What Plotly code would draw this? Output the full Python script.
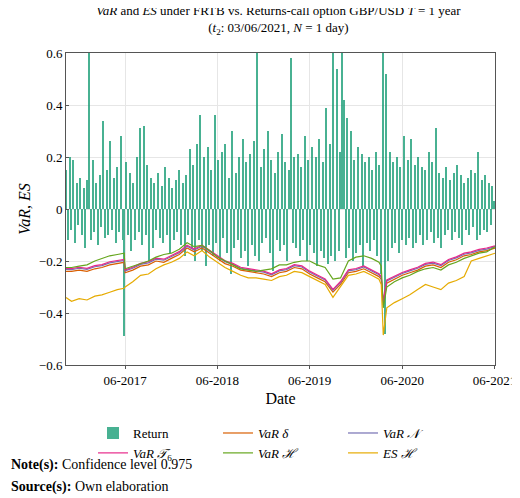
import pandas as pd
import plotly.graph_objects as go

# weekly returns of the call option, starting 2016-10-10
returns = [
    0.15, -0.12, 0.2, -0.08, 0.19, -0.13, 0.1, -0.06, 0.12, -0.1,
    0.08, -0.15, 0.11, 0.6, -0.12, 0.19, -0.09, 0.1, -0.14, 0.13,
    -0.07, 0.34, -0.11, 0.15, -0.1, 0.26, -0.08, 0.12, -0.13, 0.16,
    -0.09, 0.28, -0.12, -0.49, 0.18, -0.1, 0.14, -0.16, 0.1, -0.12,
    0.2, -0.09, 0.31, -0.14, 0.32, -0.1, 0.17, -0.2, 0.12, -0.15,
    0.1, -0.08, 0.14, -0.11, 0.09, -0.13, 0.16, -0.1, 0.12, -0.17,
    0.08, -0.12, 0.11, -0.09, 0.15, -0.14, 0.1, -0.18, 0.13, -0.1,
    0.23, -0.15, 0.17, -0.2, 0.25, -0.12, 0.36, -0.16, 0.2, -0.22,
    0.24, -0.14, 0.15, -0.18, 0.36, -0.13, 0.19, -0.2, 0.22, -0.11,
    0.25, -0.17, 0.12, -0.25, 0.3, -0.15, 0.14, -0.12, 0.2, -0.19,
    0.27, -0.16, 0.18, -0.22, 0.21, -0.14, 0.26, -0.18, 0.6, -0.2,
    0.16, -0.13, 0.23, -0.11, 0.3, -0.17, 0.19, -0.24, 0.14, -0.12,
    0.22, -0.16, 0.29, -0.14, 0.18, -0.2, 0.15, 0.58, -0.13, 0.2,
    -0.15, 0.21, -0.18, 0.16, -0.12, 0.28, -0.2, 0.19, -0.14, 0.24,
    -0.17, 0.2, -0.22, 0.27, -0.16, 0.18, -0.19, 0.39, -0.21, 0.25,
    -0.18, 0.6, -0.2, 0.54, -0.16, 0.22, 0.6, 0.42, -0.19, 0.35,
    -0.15, 0.3, -0.2, 0.19, -0.17, 0.24, -0.14, 0.21, -0.22, 0.18,
    -0.13, 0.2, -0.16, 0.15, -0.12, 0.22, -0.18, 0.17, -0.25, 0.6,
    -0.48, 0.52, -0.2, 0.22, -0.15, 0.18, -0.13, 0.2, -0.17, 0.16,
    -0.12, 0.28, -0.14, 0.19, -0.11, 0.27, -0.15, 0.17, -0.13, 0.2,
    -0.1, 0.16, -0.14, 0.15, -0.12, 0.22, -0.09, 0.18, -0.13, 0.31,
    -0.11, 0.14, -0.15, 0.12, -0.1, 0.16, -0.08, 0.11, -0.12, 0.14,
    -0.09, 0.17, -0.11, 0.13, -0.14, 0.1, -0.08, 0.12, -0.1, 0.15,
    -0.07, 0.14, -0.12, 0.22, -0.1, 0.11, -0.08, 0.13, -0.09, 0.1,
    -0.06, 0.09, 0.03,
]
ret_dates = pd.date_range("2016-10-10", periods=len(returns), freq="7D")

var_dates = [
    "2016-10-10", "2016-11-01", "2016-12-01", "2017-01-01", "2017-02-01",
    "2017-03-01", "2017-04-01", "2017-05-01", "2017-05-28", "2017-06-01",
    "2017-07-01", "2017-08-01", "2017-09-01", "2017-10-01", "2017-11-01",
    "2017-12-01", "2018-01-01", "2018-02-01", "2018-03-01", "2018-04-01",
    "2018-05-01", "2018-06-01", "2018-07-01", "2018-08-01", "2018-09-01",
    "2018-10-01", "2018-11-01", "2018-12-01", "2019-01-01", "2019-02-01",
    "2019-03-01", "2019-04-01", "2019-05-01", "2019-06-01", "2019-07-01",
    "2019-08-01", "2019-09-01", "2019-10-01", "2019-11-01", "2019-12-01",
    "2020-01-01", "2020-02-01", "2020-03-01", "2020-03-10", "2020-03-18",
    "2020-04-01", "2020-05-01", "2020-06-01", "2020-07-01", "2020-08-01",
    "2020-09-01", "2020-10-01", "2020-11-01", "2020-12-01", "2021-01-01",
    "2021-02-01", "2021-03-01", "2021-04-01", "2021-05-01", "2021-06-03",
]
var_delta = [
    -0.24, -0.24, -0.235, -0.24, -0.23, -0.225, -0.215, -0.21, -0.205, -0.245,
    -0.235, -0.22, -0.215, -0.2, -0.205, -0.19, -0.175, -0.15, -0.165, -0.15,
    -0.17, -0.19, -0.21, -0.22, -0.235, -0.24, -0.245, -0.25, -0.26, -0.245,
    -0.24, -0.225, -0.23, -0.25, -0.265, -0.28, -0.32, -0.29, -0.245, -0.24,
    -0.23, -0.245, -0.26, -0.27, -0.37, -0.285, -0.27, -0.255, -0.245, -0.235,
    -0.22, -0.215, -0.225, -0.205, -0.195, -0.18, -0.175, -0.165, -0.16, -0.15,
]
var_norm = [
    -0.232, -0.233, -0.228, -0.232, -0.222, -0.218, -0.207, -0.203, -0.198, -0.238,
    -0.228, -0.213, -0.207, -0.193, -0.197, -0.183, -0.168, -0.143, -0.158, -0.143,
    -0.163, -0.183, -0.203, -0.213, -0.228, -0.233, -0.238, -0.243, -0.253, -0.238,
    -0.233, -0.218, -0.223, -0.243, -0.258, -0.273, -0.313, -0.283, -0.238, -0.233,
    -0.223, -0.238, -0.253, -0.263, -0.36, -0.277, -0.262, -0.248, -0.238, -0.228,
    -0.213, -0.208, -0.218, -0.198, -0.188, -0.174, -0.169, -0.159, -0.154, -0.145,
]
var_t6 = [
    -0.228, -0.229, -0.224, -0.228, -0.218, -0.214, -0.203, -0.199, -0.194, -0.234,
    -0.224, -0.209, -0.203, -0.189, -0.193, -0.179, -0.164, -0.139, -0.154, -0.139,
    -0.159, -0.179, -0.199, -0.209, -0.224, -0.229, -0.234, -0.239, -0.249, -0.234,
    -0.229, -0.214, -0.219, -0.239, -0.254, -0.269, -0.309, -0.279, -0.234, -0.229,
    -0.219, -0.234, -0.249, -0.259, -0.356, -0.273, -0.258, -0.244, -0.234, -0.224,
    -0.209, -0.204, -0.214, -0.194, -0.184, -0.17, -0.165, -0.155, -0.15, -0.142,
]
var_hist = [
    -0.225, -0.225, -0.22, -0.215, -0.2, -0.19, -0.18, -0.175, -0.17, -0.23,
    -0.22, -0.21, -0.2, -0.185, -0.175, -0.17, -0.155, -0.13, -0.145, -0.14,
    -0.16, -0.185, -0.2, -0.215, -0.23, -0.235, -0.24, -0.235, -0.23, -0.215,
    -0.215, -0.205, -0.2, -0.2, -0.215, -0.225, -0.27, -0.265, -0.2, -0.185,
    -0.18, -0.19, -0.205, -0.22, -0.38, -0.3, -0.28, -0.265, -0.255, -0.24,
    -0.23, -0.225, -0.235, -0.215, -0.205, -0.19, -0.18, -0.17, -0.165, -0.145,
]
es_hist = [
    -0.34, -0.355, -0.345, -0.35, -0.335, -0.33, -0.32, -0.31, -0.305, -0.3,
    -0.28, -0.255, -0.25, -0.23, -0.215, -0.205, -0.19, -0.165, -0.18, -0.16,
    -0.185, -0.205, -0.225, -0.24, -0.255, -0.265, -0.265, -0.27, -0.275, -0.26,
    -0.255, -0.24, -0.245, -0.26, -0.275, -0.29, -0.34, -0.3, -0.255, -0.25,
    -0.24, -0.255, -0.27, -0.29, -0.485, -0.38, -0.36, -0.345, -0.33, -0.31,
    -0.29, -0.3, -0.31, -0.285, -0.275, -0.26, -0.2, -0.19, -0.18, -0.17,
]

font = "Liberation Serif"
fig = go.Figure()
fig.add_trace(go.Bar(x=ret_dates, y=returns, name="Return",
                     marker=dict(color="#1b9e77", line_width=0), opacity=0.8,
                     width=4 * 86400000))
series = [
    ("<i>VaR δ</i>", var_delta, "#d95f02"),
    ("<i>VaR 𝒩</i>", var_norm, "#7570b3"),
    ("<i>VaR 𝒯</i><sub>6</sub>", var_t6, "#e7298a"),
    ("<i>VaR ℋ</i>", var_hist, "#66a61e"),
    ("<i>ES ℋ</i>", es_hist, "#e6ab02"),
]
for name, vals, col in series:
    fig.add_trace(go.Scatter(x=var_dates, y=vals, name=name, mode="lines",
                             line=dict(color=col, width=1.2)))

fig.update_layout(
    width=520, height=498,
    margin=dict(l=58, r=23, t=45, b=141),
    plot_bgcolor="white", paper_bgcolor="white",
    font=dict(family=font, size=13, color="black"),
    title=dict(text="<i>VaR</i> and <i>ES</i> under FRTB vs. Returns-call option GBP/USD <i>T</i> = 1 year"
                    "<br>(<i>t</i><sub>2</sub>: 03/06/2021, <i>N</i> = 1 day)",
               x=0.52, xanchor="center", y=0.985, yanchor="top", font=dict(size=13)),
    bargap=0,
    legend=dict(orientation="h", x=0.5, xanchor="center", y=-0.17, yanchor="top",
                entrywidth=80, font=dict(size=13), tracegroupgap=0,
                traceorder="normal"),
    annotations=[
        dict(text="<b>Note(s):</b> Confidence level 0.975", xref="paper", yref="paper",
             x=-0.132, y=-0.32, xanchor="left", yanchor="middle", showarrow=False,
             font=dict(size=14)),
        dict(text="<b>Source(s):</b> Own elaboration", xref="paper", yref="paper",
             x=-0.132, y=-0.39, xanchor="left", yanchor="middle", showarrow=False,
             font=dict(size=14)),
    ],
)
fig.update_xaxes(range=["2016-10-10", "2021-06-03"], type="date",
                 tickvals=["2017-06-01", "2018-06-01", "2019-06-01", "2020-06-01", "2021-06-01"],
                 ticktext=["06-2017", "06-2018", "06-2019", "06-2020", "06-2021"],
                 title=dict(text="Date", standoff=6), showgrid=True, gridcolor="#e6e6e6",
                 showline=True, linecolor="#555", mirror=True, ticks="outside",
                 ticklen=3, tickcolor="#555")
fig.update_yaxes(range=[-0.6, 0.6], tickvals=[-0.6, -0.4, -0.2, 0, 0.2, 0.4, 0.6],
                 ticktext=["−0.6", "−0.4", "−0.2", "0", "0.2", "0.4", "0.6"],
                 title=dict(text="<i>VaR</i>, <i>ES</i>", standoff=4), showgrid=True,
                 gridcolor="#e6e6e6", zeroline=False, showline=True, linecolor="#555",
                 mirror=True, ticks="inside", ticklen=3, tickcolor="#555")
fig.write_html("out.html")
